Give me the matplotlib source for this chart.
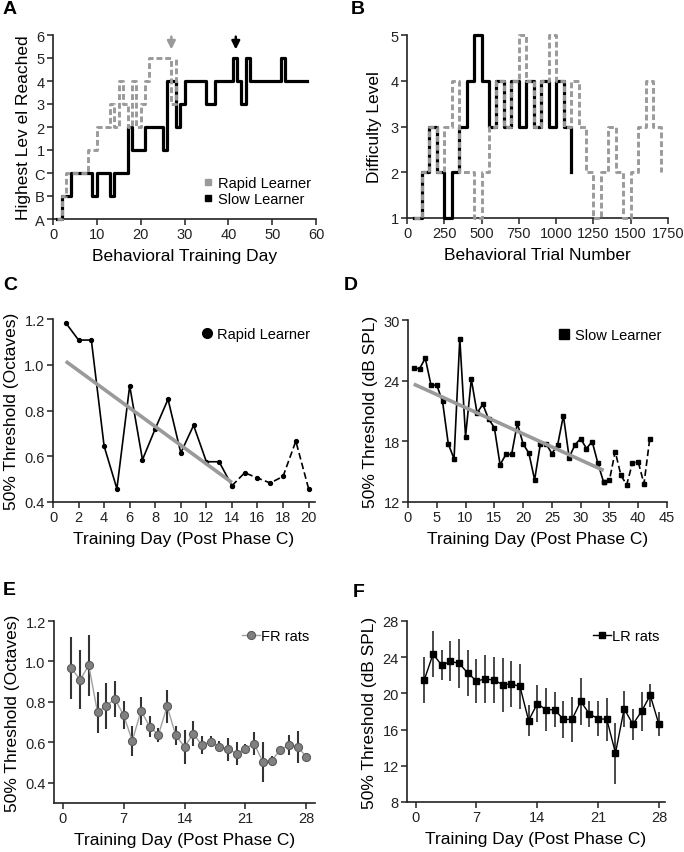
import numpy as np
import matplotlib.pyplot as plt
from matplotlib.lines import Line2D

plt.rcParams['font.family'] = ['Liberation Sans', 'DejaVu Sans']

# ---- panel A: highest level reached per training day ----
level_labels = ['A', 'B', 'C', '1', '2', '3', '4', '5', '6']
slow_days = list(range(1, 59))
slow_level = [0, 1, 1, 2, 2, 2, 2, 2, 1, 2, 2, 2, 1, 2, 2, 2, 4, 3, 3, 3,
              4, 4, 4, 4, 3, 6, 6, 4, 5, 6, 6, 6, 6, 6, 5, 5, 6, 6, 6, 6,
              7, 6, 5, 7, 6, 6, 6, 6, 6, 6, 6, 7, 6, 6, 6, 6, 6, 6]
rapid_days = list(range(1, 29))
rapid_level = [0, 1, 2, 2, 2, 2, 2, 3, 3, 4, 4, 4, 5, 4, 6, 5, 4, 6, 4, 5,
               6, 7, 7, 7, 7, 7, 5, 7]
rapid_done_day = 27
slow_done_day = 41.7

# ---- panel B: difficulty level per 50-trial block ----
slow_trials = list(range(50, 1101, 50))
slow_diff = [1, 2, 3, 2, 1, 2, 3, 4, 5, 4, 3, 4, 3, 4, 3, 4, 3, 4, 3, 4, 3, 2]
rapid_trials = list(range(50, 1701, 50))
rapid_diff = [1, 2, 3, 2, 3, 4, 2, 2, 1, 2, 3, 4, 3, 4, 5, 4, 3, 4, 5, 4,
              3, 4, 3, 2, 1, 2, 3, 2, 1, 2, 3, 4, 3, 2]

# ---- panel C: rapid learner threshold (octaves) ----
c_days = list(range(1, 21))
c_thresh = [1.183, 1.108, 1.108, 0.644, 0.458, 0.908, 0.585, 0.72, 0.849, 0.615,
            0.735, 0.576, 0.576, 0.471, 0.528, 0.505, 0.483, 0.512, 0.666, 0.458]
c_fit_x = [1, 14]
c_fit_y = [1.015, 0.485]

# ---- panel D: slow learner threshold (dB SPL) ----
d_days = list(range(1, 43))
d_thresh = [25.27, 25.17, 26.22, 23.56, 23.56, 21.95, 17.75, 16.27, 28.16, 18.47,
            24.15, 20.8, 21.66, 20.21, 19.36, 15.68, 16.7, 16.7, 19.78, 17.75,
            16.83, 14.2, 17.75, 17.75, 16.79, 17.65, 20.54, 16.4, 17.65, 18.27,
            17.29, 17.98, 15.81, 13.94, 14.17, 16.99, 14.63, 13.7, 15.87, 15.97,
            13.8, 18.24]
d_fit_x = [1, 34]
d_fit_y = [23.66, 15.12]

# ---- panel E: FR rats mean +/- error ----
e_days = list(range(1, 29))
e_mean = [0.966, 0.910, 0.980, 0.748, 0.781, 0.814, 0.735, 0.607, 0.756, 0.678,
          0.637, 0.778, 0.635, 0.577, 0.643, 0.586, 0.604, 0.579, 0.566, 0.544,
          0.569, 0.594, 0.504, 0.509, 0.562, 0.587, 0.579, 0.528]
e_err = [0.153, 0.145, 0.149, 0.103, 0.114, 0.091, 0.067, 0.075, 0.068, 0.054,
         0.033, 0.080, 0.048, 0.083, 0.062, 0.043, 0.027, 0.027, 0.056, 0.056,
         0.022, 0.057, 0.098, 0.025, 0.012, 0.049, 0.079, 0.020]

# ---- panel F: LR rats mean +/- error ----
f_days = list(range(1, 29))
f_mean = [21.52, 24.35, 23.1, 23.54, 23.32, 22.25, 21.37, 21.59, 21.48, 20.97,
          21.04, 20.78, 17.0, 18.87, 18.2, 18.2, 17.13, 17.13, 19.12, 17.72,
          17.21, 17.13, 13.41, 18.31, 16.58, 18.02, 19.79, 16.58]
f_err = [2.54, 2.49, 1.66, 2.21, 2.67, 2.56, 2.39, 2.67, 2.52, 2.98,
         2.52, 2.52, 1.75, 2.08, 2.39, 1.93, 2.06, 2.47, 2.56, 1.4,
         1.93, 2.39, 3.37, 1.97, 1.75, 2.15, 1.25, 1.34]

GRAY = '#9a9a9a'
DASH = (0, (2.0, 1.0))
TICK = 10.5
LAB = 12.5

fig = plt.figure(figsize=(6.84, 8.53), dpi=100)


def box(l, t, r, b):
    return fig.add_axes([l / 684, 1 - b / 853, (r - l) / 684, (b - t) / 853])


def style(ax):
    for s in ['top', 'right']:
        ax.spines[s].set_visible(False)
    for s in ['left', 'bottom']:
        ax.spines[s].set_linewidth(1.2)
        ax.spines[s].set_color('#222222')
    ax.tick_params(direction='out', length=4, width=1.1, labelsize=TICK,
                   color='#222222', labelcolor='#222222', pad=2)


# A
axA = box(53, 36, 316, 220)
style(axA)
axA.step(rapid_days, rapid_level, where='post', color=GRAY, lw=2.1,
         linestyle=DASH, clip_on=False, zorder=4)
axA.step(slow_days, slow_level, where='post', color='black', lw=2.3,
         clip_on=False, zorder=3)
axA.annotate('', xy=(rapid_done_day, 7.25), xytext=(rapid_done_day, 8.05),
             arrowprops=dict(arrowstyle='-|>', color=GRAY, lw=1.8,
                             mutation_scale=12), annotation_clip=False)
axA.annotate('', xy=(slow_done_day, 7.25), xytext=(slow_done_day, 8.05),
             arrowprops=dict(arrowstyle='-|>', color='black', lw=1.8,
                             mutation_scale=12), annotation_clip=False)
axA.set_xlim(0, 60)
axA.set_ylim(0, 8)
axA.set_xticks(range(0, 61, 10))
axA.set_yticks(range(9))
axA.set_yticklabels(level_labels)
axA.set_xlabel('Behavioral Training Day', fontsize=LAB, labelpad=5)
axA.set_ylabel('Highest Lev el Reached', fontsize=LAB, labelpad=2)
handles = [Line2D([], [], marker='s', ls='none', color=GRAY, ms=5),
           Line2D([], [], marker='s', ls='none', color='black', ms=5)]
axA.legend(handles, ['Rapid Learner', 'Slow Learner'], loc='lower right',
           bbox_to_anchor=(1.03, 0.0), frameon=False, fontsize=TICK,
           handletextpad=0.1, labelspacing=0.15, handlelength=1.2)

# B
axB = box(407, 36, 668, 219)
style(axB)
axB.step(rapid_trials, rapid_diff, where='post', color=GRAY, lw=2.1,
         linestyle=DASH, clip_on=False, zorder=4)
axB.step(slow_trials, slow_diff, where='post', color='black', lw=2.3,
         clip_on=False, zorder=3)
axB.set_xlim(0, 1750)
axB.set_ylim(1, 5)
axB.set_xticks(range(0, 1751, 250))
axB.set_yticks(range(1, 6))
axB.set_xlabel('Behavioral Trial Number', fontsize=LAB, labelpad=5)
axB.set_ylabel('Difficulty Level', fontsize=LAB, labelpad=6)

# C
axC = box(53, 320, 315, 503)
style(axC)
axC.plot(c_days[:14], c_thresh[:14], '-o', color='black', lw=1.2, ms=2.8,
         clip_on=False, zorder=3)
axC.plot(c_days[13:], c_thresh[13:], '--o', color='black', lw=1.2, ms=2.8,
         dashes=(4, 2), clip_on=False, zorder=3)
axC.plot(c_fit_x, c_fit_y, color=GRAY, lw=2.6, zorder=4,
         solid_capstyle='butt')
axC.set_xlim(0, 20.5)
axC.set_ylim(0.4, 1.2)
axC.set_xticks(range(0, 21, 2))
axC.set_yticks(np.arange(0.4, 1.21, 0.2))
axC.set_yticklabels(['0.4', '0.6', '0.8', '1.0', '1.2'])
axC.set_xlabel('Training Day (Post Phase C)', fontsize=LAB, labelpad=5)
axC.set_ylabel('50% Threshold (Octaves)', fontsize=LAB, labelpad=4)
axC.legend([Line2D([], [], marker='o', ls='none', color='black', ms=7)],
           ['Rapid Learner'], loc='upper right', bbox_to_anchor=(1.03, 1.03),
           frameon=False, fontsize=TICK, handletextpad=0.2, handlelength=1.0)

# D
axD = box(408, 321, 667, 503)
style(axD)
axD.plot(d_days[:34], d_thresh[:34], '-s', color='black', lw=1.2, ms=2.8,
         clip_on=False, zorder=3)
axD.plot(d_days[33:], d_thresh[33:], '--s', color='black', lw=1.2, ms=2.8,
         dashes=(4, 2), clip_on=False, zorder=3)
axD.plot(d_fit_x, d_fit_y, color=GRAY, lw=2.6, zorder=4,
         solid_capstyle='butt')
axD.set_xlim(0, 45)
axD.set_ylim(12, 30)
axD.set_xticks(range(0, 46, 5))
axD.set_yticks(range(12, 31, 6))
axD.set_xlabel('Training Day (Post Phase C)', fontsize=LAB, labelpad=5)
axD.set_ylabel('50% Threshold (dB SPL)', fontsize=LAB, labelpad=4)
axD.legend([Line2D([], [], marker='s', ls='none', color='black', ms=6.5)],
           ['Slow Learner'], loc='upper right', bbox_to_anchor=(1.03, 1.03),
           frameon=False, fontsize=TICK, handletextpad=0.3, handlelength=1.0)

# E
axE = box(54, 622, 315, 804)
style(axE)
axE.errorbar(e_days, e_mean, yerr=e_err, fmt='none', ecolor='#333333',
             elinewidth=1.5, capsize=0, zorder=2)
axE.plot(e_days, e_mean, '-o', color='#a0a0a0', lw=1.0, ms=5.8,
         mfc='#808080', mec='#5a5a5a', mew=0.8, zorder=3, label='FR rats')
axE.set_xlim(-1, 29)
axE.set_ylim(0.3, 1.2)
axE.set_xticks(range(0, 29, 7))
axE.set_yticks(np.arange(0.4, 1.21, 0.2))
axE.set_yticklabels(['0.4', '0.6', '0.8', '1.0', '1.2'])
axE.set_xlabel('Training Day (Post Phase C)', fontsize=LAB, labelpad=5)
axE.set_ylabel('50% Threshold (Octaves)', fontsize=LAB, labelpad=4)
axE.legend(loc='upper right', bbox_to_anchor=(1.03, 1.03), frameon=False,
           fontsize=TICK, handletextpad=0.1, handlelength=1.2)

# F
axF = box(407, 622, 665, 803)
style(axF)
axF.errorbar(f_days, f_mean, yerr=f_err, fmt='none', ecolor='#3a3a3a',
             elinewidth=1.3, capsize=0, zorder=2)
axF.plot(f_days, f_mean, '-s', color='black', lw=1.0, ms=4.5, zorder=3,
         label='LR rats')
axF.set_xlim(-1, 28.7)
axF.set_ylim(8, 28)
axF.set_xticks(range(0, 29, 7))
axF.set_yticks(range(8, 29, 4))
axF.set_xlabel('Training Day (Post Phase C)', fontsize=LAB, labelpad=5)
axF.set_ylabel('50% Threshold (dB SPL)', fontsize=LAB, labelpad=4)
axF.legend(loc='upper right', bbox_to_anchor=(1.03, 1.03), frameon=False,
           fontsize=TICK, handletextpad=0.1, handlelength=1.2)

# panel letters
for letter, x, y in [('A', 3, 14), ('B', 351, 14), ('C', 3, 290),
                     ('D', 344, 290), ('E', 3, 595), ('F', 353, 597)]:
    fig.text(x / 684, 1 - y / 853, letter, fontsize=14, fontweight='bold')

fig.savefig('out.png', dpi=100)
